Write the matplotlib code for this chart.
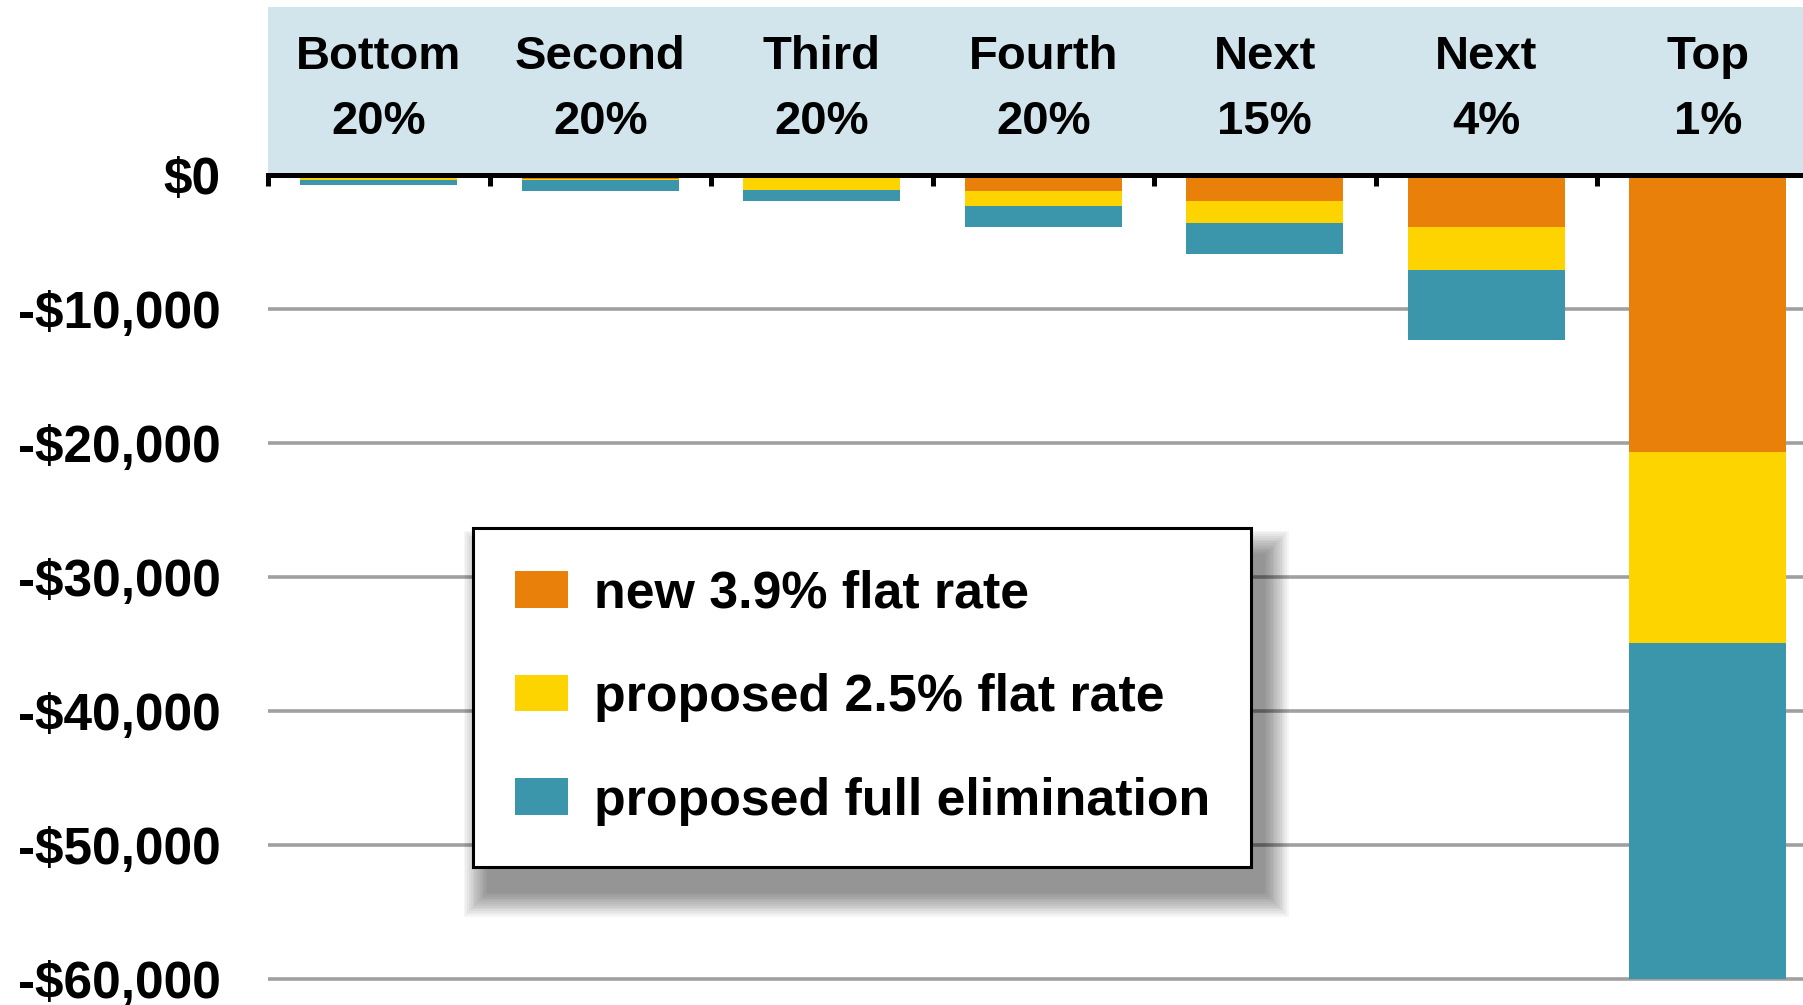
import numpy as np
import matplotlib
matplotlib.use('Agg')
import matplotlib.pyplot as plt
from matplotlib.patches import Rectangle
from matplotlib.ticker import FuncFormatter

#-----------------------------------------
# Data: average change in income tax by income group
#-----------------------------------------

group_names = ['Bottom', 'Second', 'Third', 'Fourth', 'Next', 'Next', 'Top']
group_shares = ['20%', '20%', '20%', '20%', '15%', '4%', '1%']

new_flat_39 = [-100, -300, -200, -1200, -1950, -3900, -20700]
proposed_flat_25 = [-250, -50, -900, -1150, -1600, -3200, -14200]
full_elimination = [-400, -850, -850, -1550, -2350, -5200, -25100]

series_labels = ['new 3.9% flat rate', 'proposed 2.5% flat rate', 'proposed full elimination']
series_colors = ['#E8800A', '#FDD300', '#3B96AC']

y_ticks = [0, -10000, -20000, -30000, -40000, -50000, -60000]

plt.rcParams['font.family'] = ['Liberation Sans', 'DejaVu Sans']
plt.rcParams['font.weight'] = 'bold'

fig = plt.figure(figsize=(18.03, 10.05), dpi=100)
ax = fig.add_axes([268/1803, 0, 1 - 268/1803, 1])

x = np.arange(len(group_names))
series = [new_flat_39, proposed_flat_25, full_elimination]
bottom = np.zeros(len(x))
for vals, lab, col in zip(series, series_labels, series_colors):
    ax.bar(x, vals, width=0.71, bottom=bottom, color=col, label=lab, zorder=2)
    bottom = bottom + np.array(vals)

ax.set_xlim(-0.5, 6.43)
ax.set_ylim(-61940, 13060)

##header band with the group names
ax.add_patch(Rectangle((-0.5, 0), 7.0, 12540, facecolor='#D3E5EC',
                       edgecolor='none', zorder=0))
for i in x:
    ax.text(i, 8770, group_names[i], ha='center', va='center', fontsize=34,
            fontweight='bold', color='black')
    ax.text(i, 3990, group_shares[i], ha='center', va='center', fontsize=34,
            fontweight='bold', color='black')

##gridlines and zero axis
ax.set_yticks(y_ticks)
ax.yaxis.set_major_formatter(FuncFormatter(
    lambda v, p: '$0' if v == 0 else '-${:,.0f}'.format(abs(v))))
ax.tick_params(axis='y', length=0, pad=34, labelsize=37)
for t in y_ticks[1:]:
    ax.axhline(t, color='#A0A0A0', lw=2.6, zorder=1)

for s in ['top', 'right', 'left']:
    ax.spines[s].set_visible(False)
ax.spines['bottom'].set_position(('data', 0))
ax.spines['bottom'].set_linewidth(3.6)
ax.spines['bottom'].set_zorder(5)
ax.set_xticks(np.arange(-0.5, 6.0, 1.0))
ax.set_xticklabels([])
ax.tick_params(axis='x', direction='out', length=8, width=3.6, color='black')
ax.patch.set_alpha(0)

leg = ax.legend(loc='upper left', bbox_to_anchor=(473/1803, 1 - 528/1005),
                bbox_transform=fig.transFigure, borderaxespad=0,
                fontsize=37.4, handlelength=1.02, handleheight=0.71,
                handletextpad=0.5, labelspacing=1.05, borderpad=0.8,
                fancybox=False, framealpha=1, edgecolor='black')
leg.get_frame().set_linewidth(2.2)
leg.set_zorder(10)

##soft drop shadow behind the legend box
fig.canvas.draw()
bb = leg.get_window_extent()
W, H = fig.get_size_inches() * fig.dpi
dx, dy = 14, -26
for k in range(14):
    r = (13 - k) * 1.8
    x0 = (bb.x0 + dx - r) / W
    y0 = (bb.y0 + dy - r) / H
    ax.add_patch(Rectangle((x0, y0), (bb.width + 2 * r) / W, (bb.height + 2 * r) / H,
                           transform=fig.transFigure, facecolor='black', alpha=0.035,
                           edgecolor='none', zorder=8, clip_on=False))

plt.savefig('out.png', dpi=100)
